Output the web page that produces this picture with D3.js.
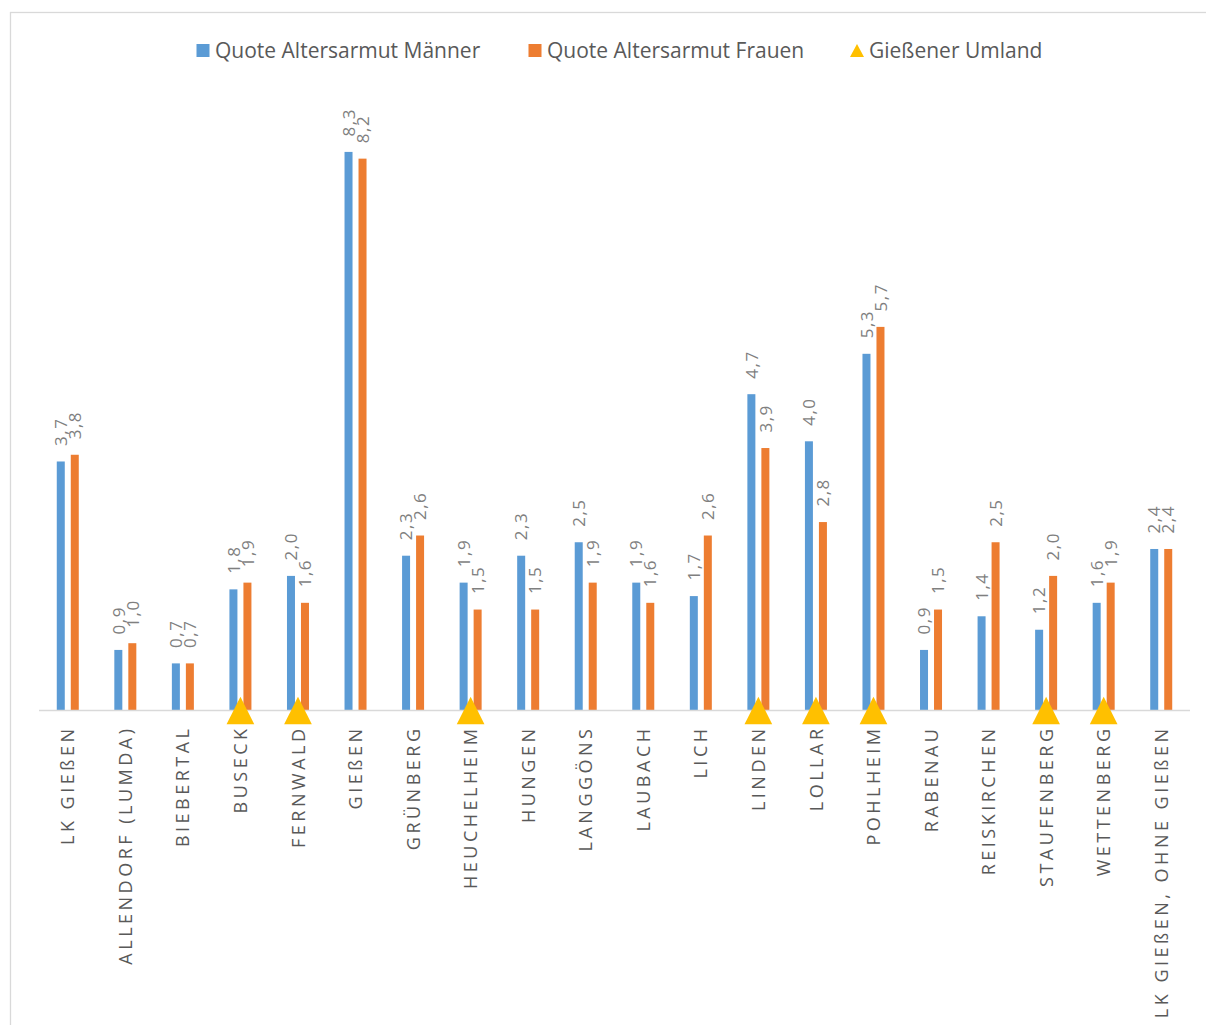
<!DOCTYPE html>
<html><head><meta charset="utf-8">
<script src="https://cdn.jsdelivr.net/npm/d3@7"></script>
<style>body{margin:0;background:#fff} svg{display:block}</style>
</head><body>
<svg id="c" width="1206" height="1025"></svg>
<script>
const categories = ["LK GIEßEN","ALLENDORF (LUMDA)","BIEBERTAL","BUSECK","FERNWALD","GIEßEN","GRÜNBERG","HEUCHELHEIM","HUNGEN","LANGGÖNS","LAUBACH","LICH","LINDEN","LOLLAR","POHLHEIM","RABENAU","REISKIRCHEN","STAUFENBERG","WETTENBERG","LK GIEßEN, OHNE GIEßEN"];
const maenner = [3.7,0.9,0.7,1.8,2.0,8.3,2.3,1.9,2.3,2.5,1.9,1.7,4.7,4.0,5.3,0.9,1.4,1.2,1.6,2.4];
const frauen  = [3.8,1.0,0.7,1.9,1.6,8.2,2.6,1.5,1.5,1.9,1.6,2.6,3.9,2.8,5.7,1.5,2.5,2.0,1.9,2.4];
const umland  = [null,null,null,0,0,null,null,0,null,null,null,null,0,0,0,null,null,0,0,null];
const seriesNames = ["Quote Altersarmut Männer","Quote Altersarmut Frauen","Gießener Umland"];
const seriesColors = ["#5B9BD5","#ED7D31","#FFC000"];

const svg = d3.select("#c");
const FONT = "'Open Sans', 'DejaVu Sans', sans-serif";

// outer chart border
svg.append("rect").attr("x",10.5).attr("y",12.5).attr("width",1400).attr("height",1200)
  .attr("fill","#fff").attr("stroke","#d9d9d9").attr("stroke-width",1.3);

const base = 710.5;
const x = d3.scaleBand().domain(categories).range([39,1190]).paddingInner(0).paddingOuter(0);
const y = d3.scaleLinear().domain([0,9]).range([base, base - 9*67.3]);
const sub = d3.scaleBand().domain([0,1]).range([-11,11]).paddingInner(6/14).paddingOuter(0);
const cx = c => x(c) + x.bandwidth()/2;

const series = [maenner, frauen];
const fmt = v => d3.format(".1f")(v).replace(".", ",");

series.forEach((vals, s) => {
  const g = svg.append("g");
  g.selectAll("rect").data(categories).join("rect")
    .attr("x", (c) => cx(c) + sub(s))
    .attr("width", sub.bandwidth())
    .attr("y", (c,i) => y(vals[i]))
    .attr("height", (c,i) => y(0) - y(vals[i]))
    .attr("fill", seriesColors[s]);
});

// axis line
svg.append("line").attr("x1",39).attr("x2",1190).attr("y1",y(0)).attr("y2",y(0))
  .attr("stroke","#d9d9d9").attr("stroke-width",1.6);

// data labels
series.forEach((vals, s) => {
  svg.append("g").selectAll("text").data(categories).join("text")
    .attr("transform", (c,i) => `translate(${cx(c) + sub(s) + sub.bandwidth()/2 + 6.2},${y(vals[i]) - 15.5}) rotate(-90)`)
    .attr("text-anchor","start")
    .attr("font-family",FONT).attr("font-size",17).attr("letter-spacing","1.5px").attr("fill","#7f7f7f")
    .text((c,i) => fmt(vals[i]));
});

// category labels
svg.append("g").selectAll("text").data(categories).join("text")
  .attr("transform", c => `translate(${cx(c) + 6.6},${y(0) + 15}) rotate(-90)`)
  .attr("text-anchor","end")
  .attr("font-family",FONT).attr("font-size",18).attr("letter-spacing","3.5px")
  .attr("fill","#595959")
  .text(c => c);

// Gießener Umland markers
const tri = (w,h) => `M0,${-h/2}L${w/2},${h/2}L${-w/2},${h/2}Z`;
svg.append("g").selectAll("path").data(categories.filter((c,i) => umland[i] !== null)).join("path")
  .attr("transform", c => `translate(${cx(c)},${y(umland[categories.indexOf(c)])})`)
  .attr("d", tri(27.7,27.7))
  .attr("fill", seriesColors[2]);

// legend
const legendX = [196.5, 528.5, 850];
const lg = svg.append("g");
seriesNames.forEach((n,i) => {
  if (i < 2) {
    lg.append("rect").attr("x",legendX[i]).attr("y",44).attr("width",13).attr("height",13).attr("fill",seriesColors[i]);
  } else {
    lg.append("path").attr("transform",`translate(${legendX[i]+7},50.5)`).attr("d",tri(14,13)).attr("fill",seriesColors[i]);
  }
  lg.append("text").attr("x",legendX[i] + (i<2 ? 18.5 : 19)).attr("y",58)
    .attr("font-family",FONT).attr("font-size",21).attr("fill","#595959").text(n);
});
</script>
</body></html>
